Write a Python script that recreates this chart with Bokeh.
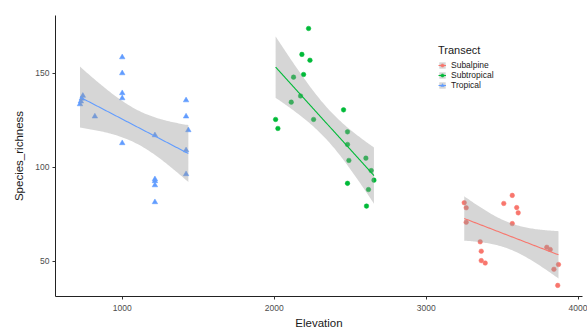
import numpy as np
from bokeh.plotting import figure
from bokeh.models import (ColumnDataSource, Range1d, FixedTicker, Legend, LegendItem)
from bokeh.embed import file_html
from bokeh.resources import INLINE

# Species richness sampled along three elevation transects
transects = ["Subalpine", "Subtropical", "Tropical"]
colors = ["#F8766D", "#00BA38", "#619CFF"]
markers = ["circle", "circle", "triangle"]

subalpine_elev = [3250, 3263, 3263, 3355, 3362, 3362, 3388, 3510, 3566, 3595,
                  3605, 3566, 3793, 3816, 3870, 3840, 3865]
subalpine_rich = [81.1, 78.4, 70.7, 60.3, 55.3, 50.3, 49.0, 80.7, 85.0, 78.5,
                  75.7, 70.0, 57.4, 56.2, 48.2, 45.7, 37.1]

subtropical_elev = [2226, 2182, 2235, 2193, 2127, 2173, 2112, 2009, 2024, 2456,
                    2259, 2482, 2482, 2491, 2482, 2603, 2638, 2656, 2620, 2607]
subtropical_rich = [173.8, 160.0, 156.9, 149.3, 147.9, 137.9, 134.6, 125.4, 120.6, 130.5,
                    125.4, 118.8, 112.1, 103.6, 91.4, 104.8, 98.2, 93.1, 88.1, 79.3]

tropical_elev = [722, 728, 734, 741, 820, 1000, 1000, 1000, 1000, 1000,
                 1215, 1215, 1215, 1215, 1215, 1420, 1420, 1435, 1420, 1420]
tropical_rich = [133.5, 135.0, 136.5, 138.0, 127.0, 158.5, 150.0, 139.4, 136.7, 112.8,
                 117.0, 93.6, 92.6, 90.4, 81.4, 135.6, 127.0, 119.7, 109.0, 96.3]

groups = {
    "Subalpine": (subalpine_elev, subalpine_rich),
    "Subtropical": (subtropical_elev, subtropical_rich),
    "Tropical": (tropical_elev, tropical_rich),
}

x_ticks = [1000, 2000, 3000, 4000]
y_ticks = [50, 100, 150]


def t_975(df):
    # Cornish-Fisher expansion of the Student t 0.975 quantile
    z = 1.959963985
    g1 = (z**3 + z) / 4
    g2 = (5 * z**5 + 16 * z**3 + 3 * z) / 96
    g3 = (3 * z**7 + 19 * z**5 + 17 * z**3 - 15 * z) / 384
    g4 = (79 * z**9 + 776 * z**7 + 1482 * z**5 - 1920 * z**3 - 945 * z) / 92160
    return z + g1 / df + g2 / df**2 + g3 / df**3 + g4 / df**4


def lm_band(x, y, n=80):
    x = np.asarray(x, float)
    y = np.asarray(y, float)
    slope, intercept = np.polyfit(x, y, 1)
    resid = y - (slope * x + intercept)
    df = len(x) - 2
    s = np.sqrt(np.sum(resid**2) / df)
    xm = x.mean()
    sxx = np.sum((x - xm) ** 2)
    xs = np.linspace(x.min(), x.max(), n)
    fit = slope * xs + intercept
    se = s * np.sqrt(1.0 / len(x) + (xs - xm) ** 2 / sxx)
    t = t_975(df)
    return xs, fit, fit - t * se, fit + t * se


FONT = "Liberation Sans"

p = figure(width=587, height=332, output_backend="svg", toolbar_location=None,
           x_range=Range1d(561, 4028), y_range=Range1d(31.2, 180.7),
           min_border_left=55, min_border_right=5, min_border_top=15,
           min_border_bottom=36, x_axis_label="Elevation",
           y_axis_label="Species_richness")
p.background_fill_color = "white"
p.border_fill_color = "white"
p.outline_line_color = None
p.xgrid.visible = False
p.ygrid.visible = False

p.xaxis.ticker = FixedTicker(ticks=x_ticks)
p.yaxis.ticker = FixedTicker(ticks=y_ticks)
for ax in (p.xaxis, p.yaxis):
    ax.axis_line_color = "#222222"
    ax.axis_line_width = 1
    ax.major_tick_line_color = "#333333"
    ax.major_tick_out = 3
    ax.major_tick_in = 0
    ax.minor_tick_line_color = None
    ax.major_label_text_font = FONT
    ax.major_label_text_font_size = "8.5px"
    ax.major_label_text_color = "#4D4D4D"
    ax.major_label_standoff = 3
    ax.axis_label_text_font = FONT
    ax.axis_label_text_font_size = "11.5px"
    ax.axis_label_text_font_style = "normal"
    ax.axis_label_text_color = "#1a1a1a"
    ax.axis_label_standoff = 5
p.xaxis.major_label_standoff = 5
p.xaxis.axis_label_standoff = 3
p.yaxis.axis_label_standoff = 7

items = []
for name, color, marker in zip(transects, colors, markers):
    xs_raw, ys_raw = groups[name]
    xs, fit, lo, hi = lm_band(xs_raw, ys_raw)
    band_src = ColumnDataSource(dict(x=xs, fit=fit, lo=lo, hi=hi))
    pts_src = ColumnDataSource(dict(x=xs_raw, y=ys_raw))
    r_pts = p.scatter("x", "y", source=pts_src, marker=marker,
                      size=5.5 if marker == "triangle" else 4.6,
                      fill_color=color, line_color=color, line_width=0.5)
    r_band = p.varea(x="x", y1="lo", y2="hi", source=band_src,
                     fill_color="#999999", fill_alpha=0.4)
    r_line = p.line("x", "fit", source=band_src, line_color=color, line_width=1.1)
    items.append(LegendItem(label=name, renderers=[r_band, r_line, r_pts]))

legend = Legend(items=items, location=(383, 206), title="Transect",
                title_text_font=FONT, title_text_font_size="11px",
                title_text_font_style="normal", title_text_color="#1a1a1a",
                title_standoff=4,
                label_text_font=FONT, label_text_font_size="8.5px",
                label_text_color="#1a1a1a", label_height=8, label_standoff=5,
                glyph_width=8, glyph_height=8, spacing=-2, padding=2,
                border_line_color=None, background_fill_alpha=0)
p.add_layout(legend)

open("out.html", "w").write(file_html(p, INLINE))
